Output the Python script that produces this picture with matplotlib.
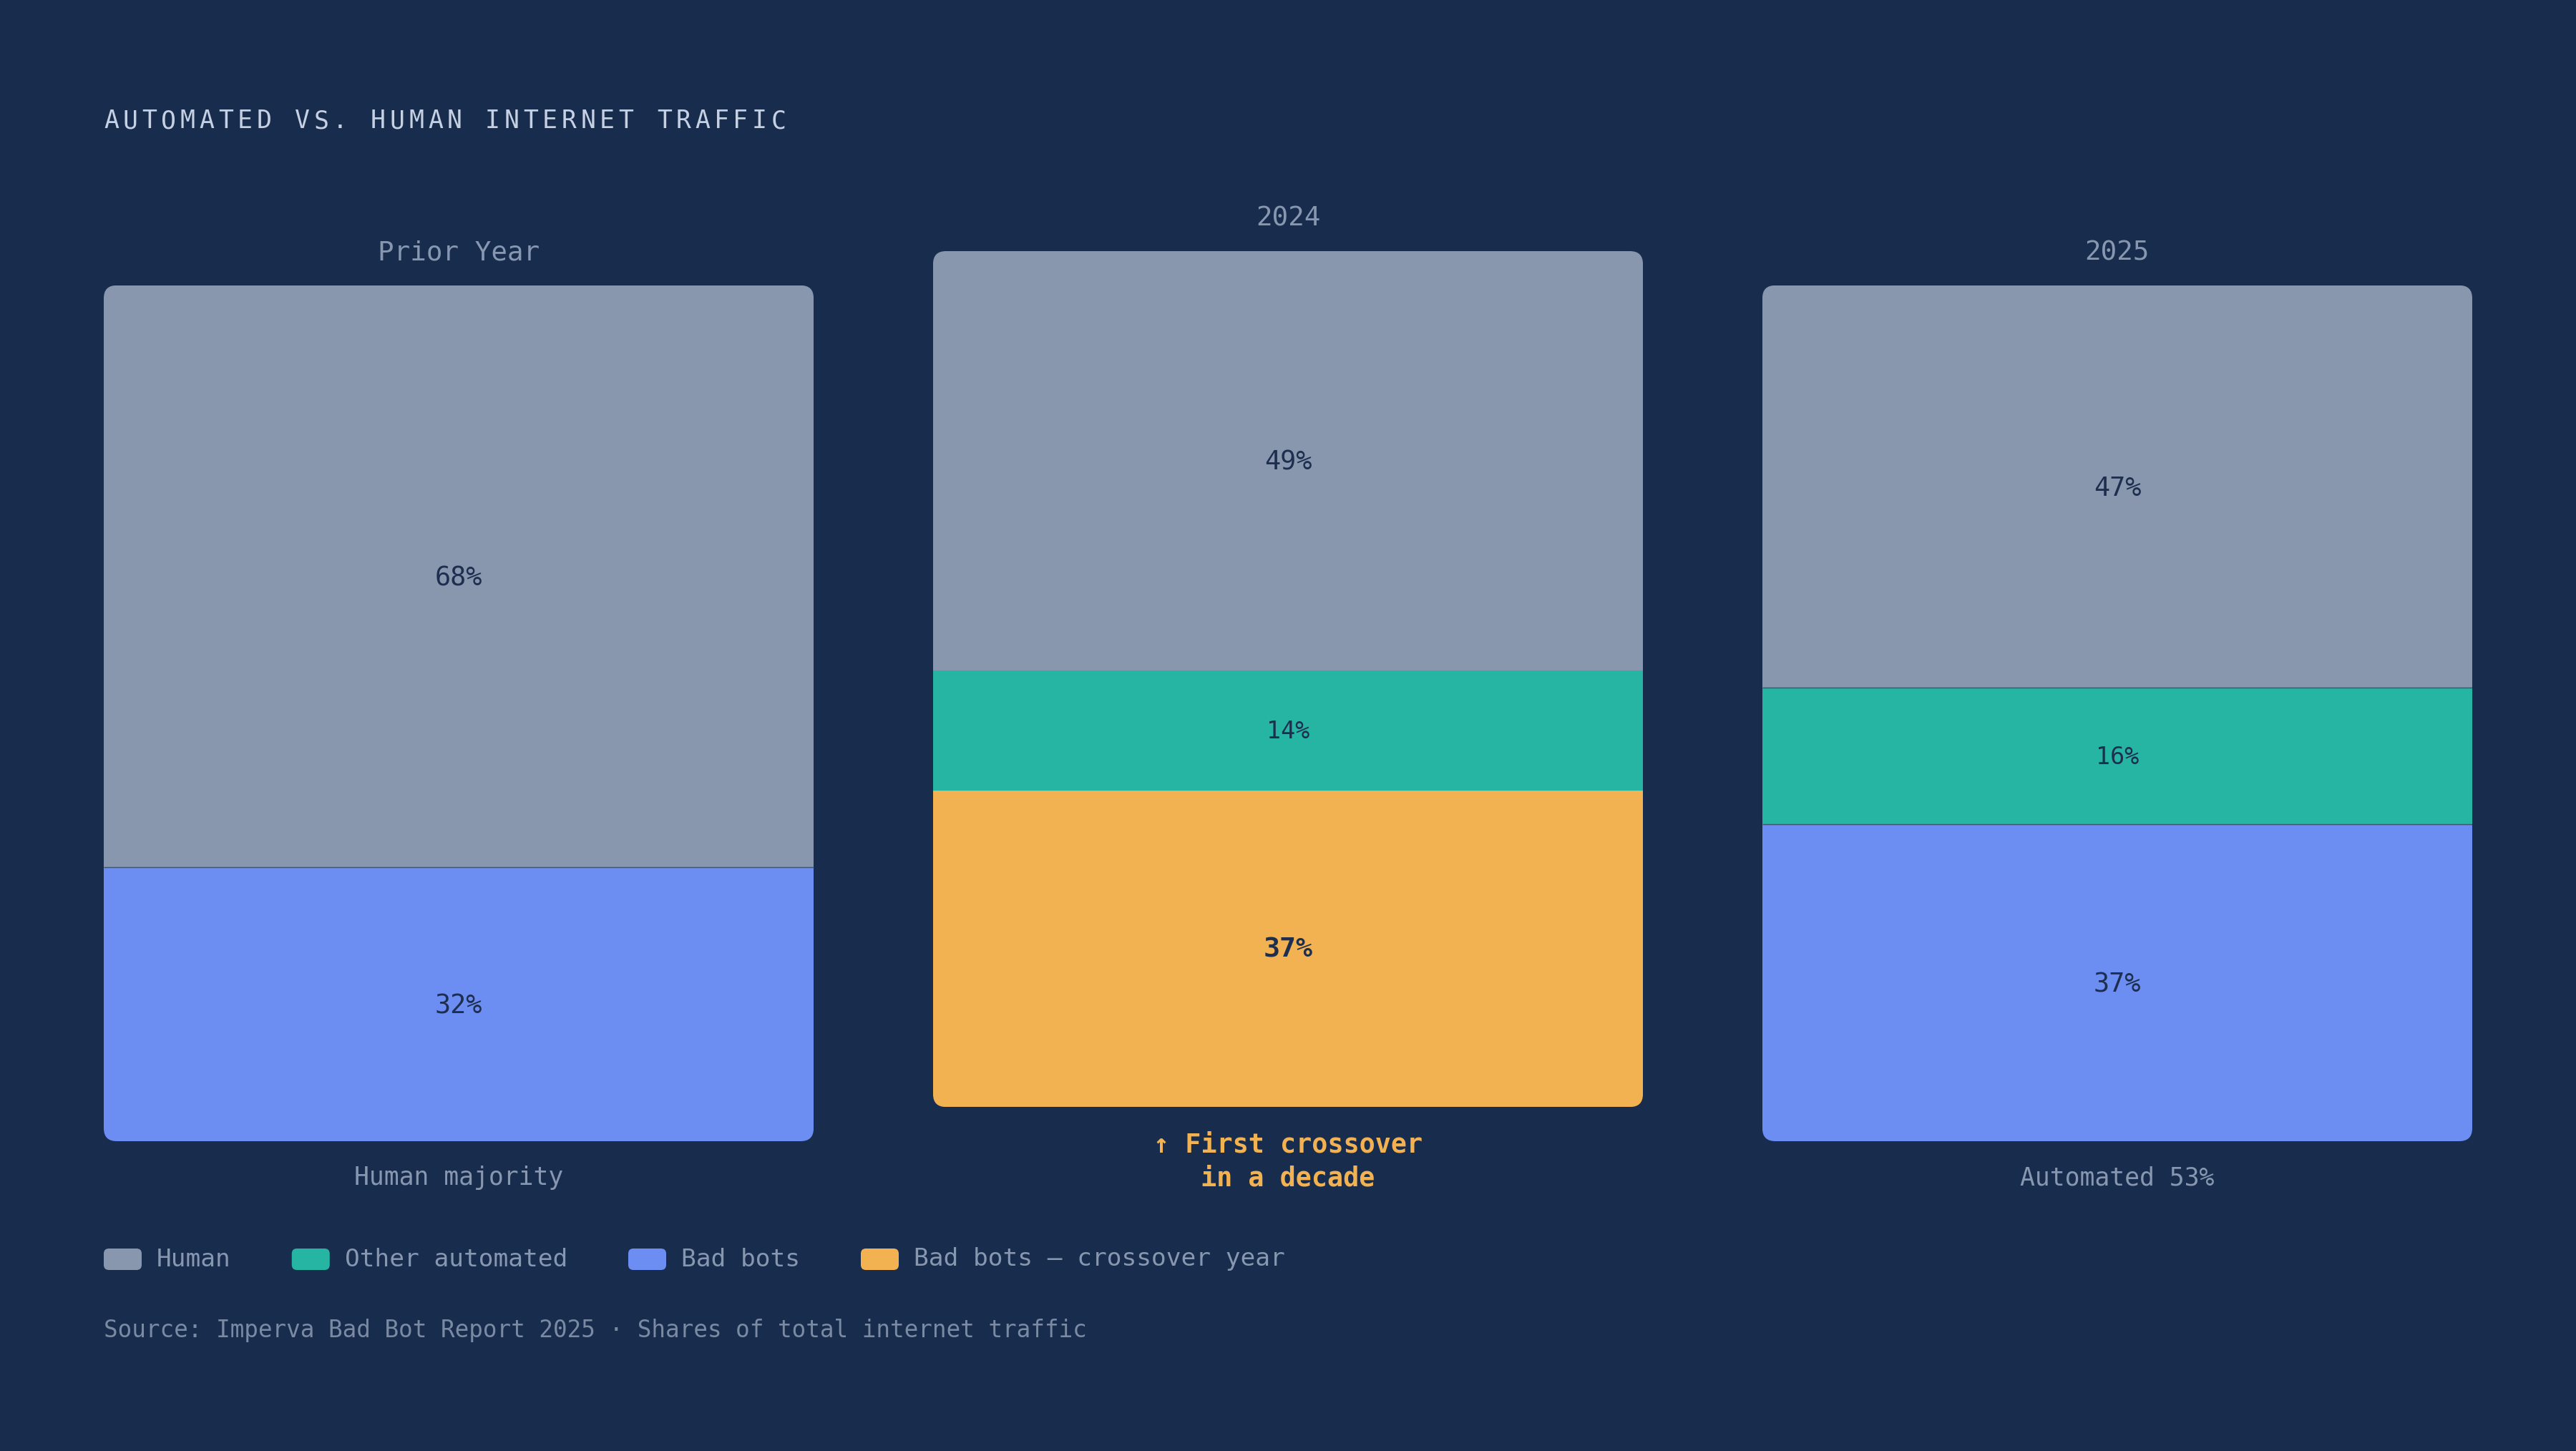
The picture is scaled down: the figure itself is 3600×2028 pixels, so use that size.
import matplotlib
matplotlib.use("Agg")
import matplotlib.pyplot as plt
from matplotlib.patches import FancyBboxPatch
import numpy as np

# Dados (percentual do tráfego total)
colunas = ["Prior Year", "2024", "2025"]
rodapes = ["Human majority", "\u2191 First crossover\nin a decade", "Automated 53%"]
humano = [68, 49, 47]
outros_auto = [0, 14, 16]
bad_bots = [32, 37, 37]
destaque = [False, True, False]   # 2024 = ano do cruzamento

series = ["Human", "Other automated", "Bad bots", "Bad bots \u2014 crossover year"]

# Cores
FUNDO = "#182c4d"
COR_HUMANO = "#8897ae"
COR_OUTROS = "#26b5a3"
COR_BOTS = "#6c8ef2"
COR_CROSS = "#f3b252"
TXT_ESCURO = "#1d2e4f"
TXT_CINZA = "#8797b0"
TXT_CLARO = "#c5d0e3"

plt.rcParams["font.family"] = ["DejaVu Sans Mono", "DejaVu Sans"]

W, H = 3600, 2028
fig = plt.figure(figsize=(W / 100, H / 100), dpi=100, facecolor=FUNDO)

# eixo das barras
lift = 4
ax = fig.add_axes([145 / W, 433 / H, 3310 / W, 1244 / H])
ax.set_facecolor("none")
ax.set_xlim(-0.428, 2.428)
ax.set_ylim(0, 100 + lift)
ax.axis("off")

largura = 0.856
x = np.arange(len(colunas))

# aspecto para cantos arredondados
px_x = 3310 / 2.856
px_y = 1244 / (100 + lift)
raio = 18 / px_x

for i in range(len(colunas)):
    base = lift if destaque[i] else 0
    total = humano[i] + outros_auto[i] + bad_bots[i]
    clip = FancyBboxPatch((x[i] - largura / 2, base), largura, total,
                          boxstyle=f"round,pad=0,rounding_size={raio}",
                          mutation_aspect=px_x / px_y,
                          transform=ax.transData, facecolor="none", edgecolor="none")
    ax.add_patch(clip)

    cor_bots = COR_CROSS if destaque[i] else COR_BOTS
    segs = [(bad_bots[i], cor_bots), (outros_auto[i], COR_OUTROS), (humano[i], COR_HUMANO)]
    y0 = base
    limites = []
    for val, cor in segs:
        if val == 0:
            continue
        b = ax.bar(x[i], val, bottom=y0, width=largura, color=cor, linewidth=0)
        for p in b:
            p.set_clip_path(clip)
        # rótulo
        if destaque[i] and cor == COR_CROSS:
            peso, tam = "bold", 27.5
        elif val < 20:
            peso, tam = "normal", 24
        else:
            peso, tam = "normal", 26.5
        ax.annotate(f"{val}%", (x[i], y0 + val / 2), xytext=(0, -1.5),
                    textcoords="offset points", ha="center", va="center",
                    fontsize=tam, fontweight=peso, color=TXT_ESCURO)
        y0 += val
        limites.append(y0)
    if not destaque[i]:
        for yl in limites[:-1]:
            ax.hlines(yl, x[i] - largura / 2, x[i] + largura / 2,
                      color="#3d5373", linewidth=1.0, zorder=3)

    # título da coluna
    ax.annotate(colunas[i], (x[i], base + total), xytext=(0, 32.5),
                textcoords="offset points", ha="center", va="center",
                fontsize=27, color=TXT_CINZA)
    # rodapé
    if destaque[i]:
        ax.annotate(rodapes[i], (x[i], base), xytext=(0, -55),
                    textcoords="offset points", ha="center", va="center",
                    fontsize=26.5, fontweight="bold", color=COR_CROSS,
                    linespacing=1.34, multialignment="center")
    else:
        ax.annotate(rodapes[i], (x[i], base), xytext=(0, -37),
                    textcoords="offset points", ha="center", va="center",
                    fontsize=25, color=TXT_CINZA)

# título com espaçamento entre letras
titulo = "AUTOMATED VS. HUMAN INTERNET TRAFFIC"
for k, ch in enumerate(titulo):
    fig.text((145 + k * 26.65) / W, 1 - 169 / H, ch, ha="left", va="center",
             fontsize=25, color=TXT_CLARO)

# legenda manual
fig.canvas.draw()
renderer = fig.canvas.get_renderer()
cores_leg = [COR_HUMANO, COR_OUTROS, COR_BOTS, COR_CROSS]
xl = 145
yl = 1 - 1760 / H
for nome, cor in zip(series, cores_leg):
    q = FancyBboxPatch((xl / W, yl - 15 / H), 53 / W, 30 / H,
                       boxstyle="round,pad=0,rounding_size=0.002",
                       mutation_aspect=W / H,
                       transform=fig.transFigure, facecolor=cor, edgecolor="none")
    fig.patches.append(q)
    t = fig.text((xl + 74) / W, yl, nome, ha="left", va="center",
                 fontsize=24.8, color=TXT_CINZA)
    bb = t.get_window_extent(renderer)
    xl = bb.x1 + 85

fig.text(145 / W, 1 - 1860 / H,
         "Source: Imperva Bad Bot Report 2025 \u00b7 Shares of total internet traffic",
         ha="left", va="center", fontsize=23.5, color="#7a8aa3")

fig.savefig("out.png", dpi=100, facecolor=FUNDO)
